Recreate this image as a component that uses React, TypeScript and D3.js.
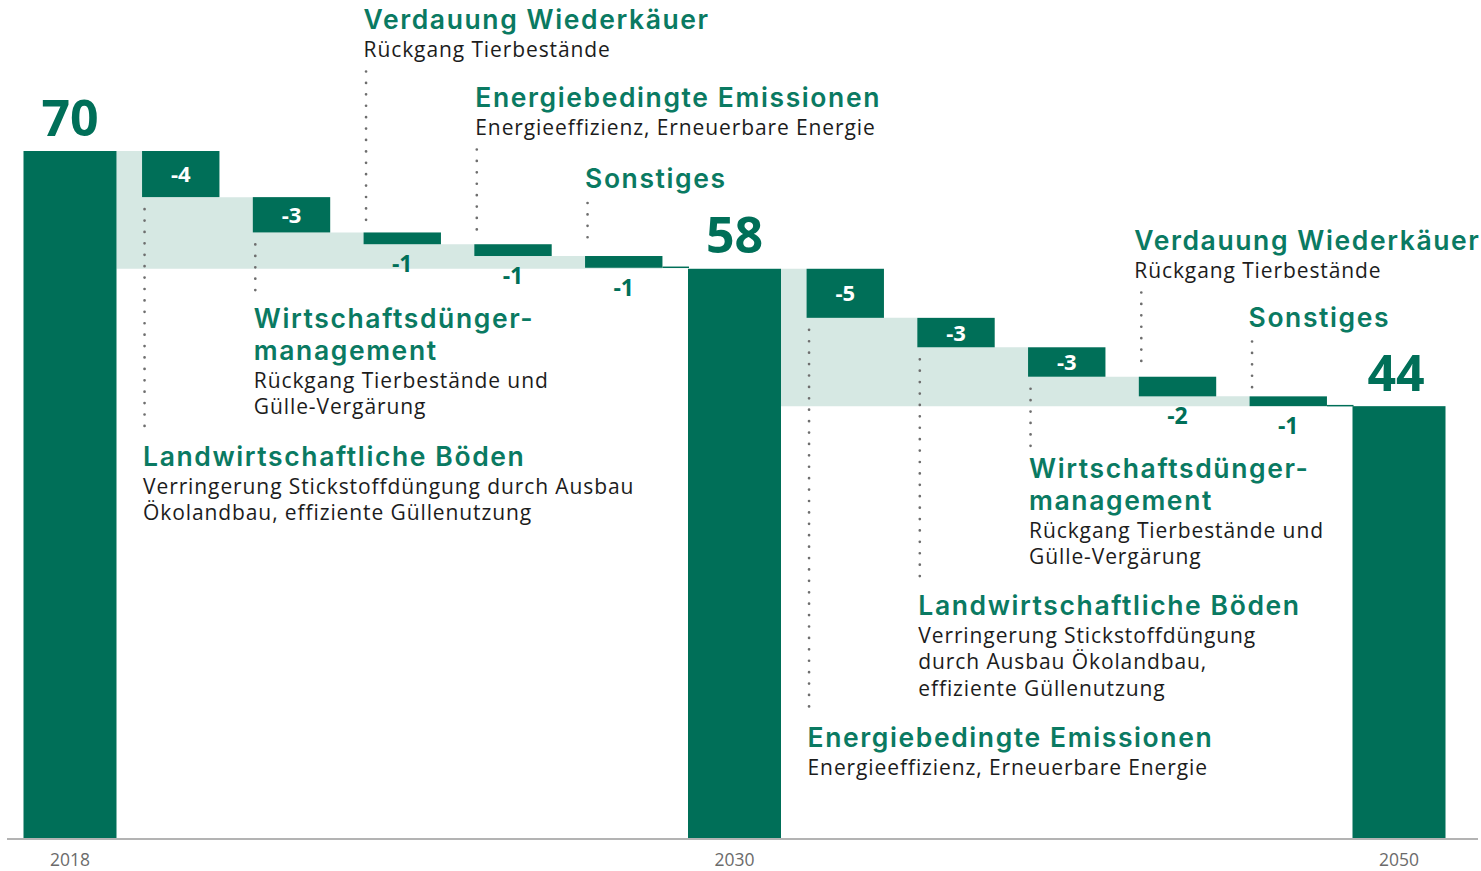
import React from "react";
import * as d3 from "d3";

// ---------- data ----------
const TOTAL_YEARS = ["2018", "2030", "2050"];
const TOTAL_VALUES = [70, 58, 44];

const STEP_VALUES_1 = [-4.7, -3.6, -1.2, -1.2, -1.2];
const STEP_LABELS_1 = ["-4", "-3", "-1", "-1", "-1"];
const STEP_TITLES_1 = [
  ["Landwirtschaftliche Böden"],
  ["Wirtschaftsdünger-", "management"],
  ["Verdauung Wiederkäuer"],
  ["Energiebedingte Emissionen"],
  ["Sonstiges"],
];
const STEP_NOTES_1 = [
  ["Verringerung Stickstoffdüngung durch Ausbau", "Ökolandbau, effiziente Güllenutzung"],
  ["Rückgang Tierbestände und", "Gülle-Vergärung"],
  ["Rückgang Tierbestände"],
  ["Energieeffizienz, Erneuerbare Energie"],
  [],
];

const STEP_VALUES_2 = [-5, -3, -3, -2, -1];
const STEP_LABELS_2 = ["-5", "-3", "-3", "-2", "-1"];
const STEP_TITLES_2 = [
  ["Energiebedingte Emissionen"],
  ["Landwirtschaftliche Böden"],
  ["Wirtschaftsdünger-", "management"],
  ["Verdauung Wiederkäuer"],
  ["Sonstiges"],
];
const STEP_NOTES_2 = [
  ["Energieeffizienz, Erneuerbare Energie"],
  ["Verringerung Stickstoffdüngung", "durch Ausbau Ökolandbau,", "effiziente Güllenutzung"],
  ["Rückgang Tierbestände und", "Gülle-Vergärung"],
  ["Rückgang Tierbestände"],
  [],
];

// ---------- layout / style ----------
const W = 1481;
const H = 871;
const DARK = "#006f58";
const TITLE_GREEN = "#0a7a62";
const LIGHT = "#d6e8e3";
const FONT = "'Open Sans', 'Noto Sans', sans-serif";
const TITLE_FONT = "Inter, 'Open Sans', sans-serif";

// annotation placement (title baseline) per step
const ANNOT_LAYOUT_1 = [
  { side: "below", y: 466, dx: 1 },
  { side: "below", y: 328, dx: 1 },
  { side: "above", y: 29, dx: 0 },
  { side: "above", y: 107, dx: 1 },
  { side: "above", y: 188, dx: 0 },
];
const ANNOT_LAYOUT_2 = [
  { side: "below", y: 747, dx: 1 },
  { side: "below", y: 615, dx: 1 },
  { side: "below", y: 478, dx: 1 },
  { side: "above", y: 250, dx: -4.5 },
  { side: "above", y: 326.5, dx: -1 },
];

const TITLE_LINE = 32;
const TITLE_TO_NOTE = 27.5;
const NOTE_LINE = 26.8;

const TOTAL_W = 93;
const STEP_W = 77.4;

export default function App() {
  const ids: string[] = [];
  ids.push("t0");
  STEP_VALUES_1.forEach((_, i) => ids.push("a" + i));
  ids.push("t1");
  STEP_VALUES_2.forEach((_, i) => ids.push("b" + i));
  ids.push("t2");

  const x = d3.scalePoint<string>().domain(ids).range([70, 1399]);
  const y = d3.scaleLinear().domain([0, 70]).range([838, 151]);

  const segments = [
    { start: TOTAL_VALUES[0], end: TOTAL_VALUES[1], vals: STEP_VALUES_1, labels: STEP_LABELS_1, titles: STEP_TITLES_1, notes: STEP_NOTES_1, layout: ANNOT_LAYOUT_1, prefix: "a", from: "t0", to: "t1" },
    { start: TOTAL_VALUES[1], end: TOTAL_VALUES[2], vals: STEP_VALUES_2, labels: STEP_LABELS_2, titles: STEP_TITLES_2, notes: STEP_NOTES_2, layout: ANNOT_LAYOUT_2, prefix: "b", from: "t1", to: "t2" },
  ];

  const elements: React.ReactNode[] = [];
  const overlay: React.ReactNode[] = [];

  segments.forEach((seg, si) => {
    let level = seg.start;
    const steps = seg.vals.map((v, i) => {
      const top = level;
      level = level + v;
      const cx = x(seg.prefix + i)!;
      return { i, top, bottom: level, x0: cx - STEP_W / 2, x1: cx + STEP_W / 2, cx };
    });
    const totalRight = x(seg.from)! + TOTAL_W / 2;
    const nextLeft = x(seg.to)! - TOTAL_W / 2;

    // light staircase area
    const pts: [number, number][] = [[totalRight, seg.start]];
    steps.forEach((s) => pts.push([s.x0, s.bottom]));
    pts.push([steps[steps.length - 1].x1, steps[steps.length - 1].bottom]);
    const area = d3
      .area<[number, number]>()
      .x((d) => d[0])
      .y0(y(seg.end))
      .y1((d) => y(d[1]))
      .curve(d3.curveStepAfter);
    elements.push(<path key={"area" + si} d={area(pts) || ""} fill={LIGHT} />);

    // connector
    const last = steps[steps.length - 1];
    elements.push(
      <line key={"conn" + si} x1={last.x1} x2={nextLeft + 1} y1={y(last.bottom) - 0.5} y2={y(last.bottom) - 0.5} stroke={DARK} strokeWidth={1.5} />
    );

    steps.forEach((s) => {
      const yt = y(s.top);
      const yb = y(s.bottom);
      elements.push(<rect key={`bar${si}-${s.i}`} x={s.x0} y={yt} width={STEP_W} height={yb - yt} fill={DARK} />);
      const inside = Math.abs(seg.vals[s.i]) >= 2.5;
      overlay.push(
        inside ? (
          <text key={`lbl${si}-${s.i}`} x={s.cx} y={(yt + yb) / 2 + 8} textAnchor="middle" fill="#fff" fontFamily={FONT} fontWeight={700} fontSize={22}>
            {seg.labels[s.i]}
          </text>
        ) : (
          <text key={`lbl${si}-${s.i}`} x={s.cx} y={yb + 28} textAnchor="middle" fill={DARK} fontFamily={FONT} fontWeight={700} fontSize={23}>
            {seg.labels[s.i]}
          </text>
        )
      );

      // annotation
      const lay = seg.layout[s.i];
      const titles = seg.titles[s.i];
      const notes = seg.notes[s.i];
      const tx = s.x0 + lay.dx;
      const dotX = s.x0 + 2.5;
      const spans: React.ReactNode[] = [];
      let cy = lay.y;
      titles.forEach((t, k) => {
        if (k > 0) cy += TITLE_LINE;
        spans.push(
          <text key={"t" + k} x={tx} y={cy} fill={TITLE_GREEN} fontFamily={TITLE_FONT} fontWeight={600} fontSize={26.5} letterSpacing={1.6}>
            {t}
          </text>
        );
      });
      notes.forEach((n, k) => {
        cy += k === 0 ? TITLE_TO_NOTE : NOTE_LINE;
        spans.push(
          <text key={"n" + k} x={tx} y={cy} fill="#1c1c1c" fontFamily={FONT} fontWeight={400} fontSize={21} letterSpacing={0.9}>
            {n}
          </text>
        );
      });
      let d1: number, d2: number;
      if (lay.side === "below") {
        d1 = yb + 12;
        d2 = lay.y - 30;
      } else {
        d1 = cy + 15;
        d2 = yt - 9;
      }
      overlay.push(
        <g key={`ann${si}-${s.i}`}>
          <line x1={dotX} x2={dotX} y1={d1} y2={d2} stroke="#6e6e6e" strokeWidth={2.7} strokeLinecap="round" strokeDasharray="0.01 11.4" />
          {spans}
        </g>
      );
    });
  });

  // total bars
  TOTAL_VALUES.forEach((v, i) => {
    const cx = x("t" + i)!;
    elements.push(<rect key={"tot" + i} x={cx - TOTAL_W / 2} y={y(v)} width={TOTAL_W} height={y(0) - y(v)} fill={DARK} />);
    overlay.push(
      <text key={"totl" + i} x={cx - (i === 2 ? 3 : 0)} y={y(v) - 15.5} textAnchor="middle" fill={DARK} fontFamily={FONT} fontWeight={700} fontSize={50}>
        {v}
      </text>
    );
    overlay.push(
      <text key={"year" + i} x={cx} y={866} textAnchor="middle" fill="#6b6b6b" fontFamily={FONT} fontSize={17.5}>
        {TOTAL_YEARS[i]}
      </text>
    );
  });

  return (
    <svg width={W} height={H} style={{ position: "absolute", left: 0, top: 0, background: "#fff" }}>
      <rect x={0} y={0} width={W} height={H} fill="#fff" />
      {elements}
      <line x1={7} x2={1478} y1={y(0) + 1} y2={y(0) + 1} stroke="#9a9a9a" strokeWidth={1.6} />
      {overlay}
    </svg>
  );
}
